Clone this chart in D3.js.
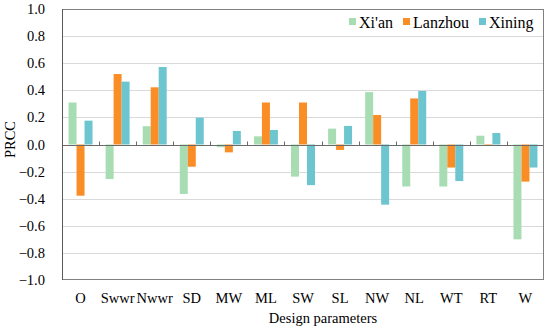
<!DOCTYPE html>
<html>
<head>
<meta charset="utf-8">
<script src="https://cdn.jsdelivr.net/npm/d3@7"></script>
<style>
  body { margin: 0; background: #fff; }
  svg text { font-family: "Liberation Serif", "DejaVu Serif", serif; fill: #000; }
  .grid { stroke: #d9d9d9; stroke-width: 1; }
</style>
</head>
<body>
<div id="chart"></div>
<script>
// Data
let categories = ['O', 'Swwr', 'Nwwr', 'SD', 'MW', 'ML', 'SW', 'SL', 'NW', 'NL', 'WT', 'RT', 'W'];
let seriesNames = ["Xi'an", 'Lanzhou', 'Xining'];
let xianVals    = [0.31, -0.255, 0.135, -0.365, -0.02, 0.06, -0.237, 0.117, 0.387, -0.31, -0.31, 0.065, -0.70];
let lanzhouVals = [-0.378, 0.52, 0.422, -0.164, -0.058, 0.31, 0.31, -0.04, 0.218, 0.34, -0.17, -0.01, -0.274];
let xiningVals  = [0.176, 0.464, 0.572, 0.198, 0.10, 0.107, -0.30, 0.137, -0.444, 0.395, -0.27, 0.085, -0.17];
let yTicks = [-1.0, -0.8, -0.6, -0.4, -0.2, 0.0, 0.2, 0.4, 0.6, 0.8, 1.0];
let colors = ['#a8ddb4', '#fb8d26', '#6cc5cf'];

let W = 550, H = 329;
let margin = {top: 9, right: 6, bottom: 49, left: 62},
    width = W - margin.left - margin.right,
    height = H - margin.top - margin.bottom;
let serif = '"Liberation Serif", "DejaVu Serif", serif';

let allVals = [xianVals, lanzhouVals, xiningVals];
let rows = categories.map((c, i) => ({cat: c, vals: allVals.map(v => v[i])}));

let scX = d3.scaleBand().domain(categories).range([0, width]).padding(0);
let scS = d3.scaleBand().domain(seriesNames).range([0, scX.bandwidth()])
    .paddingInner(0).paddingOuter(0.82);
let scY = d3.scaleLinear().domain([-1, 1]).range([height, 0]);

let svg = d3.select('#chart').append('svg')
    .attr('width', W).attr('height', H)
  .append('g')
    .attr('transform', `translate(${margin.left},${margin.top})`);

// Gridlines
svg.selectAll('line.grid')
    .data(yTicks.filter(d => d !== 0 && Math.abs(d) !== 1))
    .enter().append('line')
    .attr('class', 'grid')
    .attr('x1', 0).attr('x2', width)
    .attr('y1', d => Math.round(scY(d)) + 0.5)
    .attr('y2', d => Math.round(scY(d)) + 0.5);

// Bars
let groups = svg.selectAll('g.cat')
    .data(rows)
    .enter().append('g')
    .attr('class', 'cat')
    .attr('transform', d => `translate(${scX(d.cat)},0)`);

groups.selectAll('rect')
    .data(d => d.vals.map((v, j) => ({s: seriesNames[j], v: v, j: j})))
    .enter().append('rect')
    .attr('x', d => scS(d.s))
    .attr('width', scS.bandwidth())
    .attr('y', d => scY(Math.max(0, d.v)))
    .attr('height', d => Math.abs(scY(d.v) - scY(0)))
    .attr('fill', d => colors[d.j]);

// Zero line with small ticks between categories
let y0 = Math.round(scY(0)) + 0.5;
svg.append('line')
    .attr('x1', 0).attr('x2', width)
    .attr('y1', y0).attr('y2', y0)
    .attr('stroke', '#6b6b6b');
svg.selectAll('line.xtick')
    .data(categories.slice(1))
    .enter().append('line')
    .attr('class', 'xtick')
    .attr('x1', d => Math.round(scX(d)) + 0.5)
    .attr('x2', d => Math.round(scX(d)) + 0.5)
    .attr('y1', y0).attr('y2', y0 - 4)
    .attr('stroke', '#6b6b6b');

// Plot frame
svg.append('rect')
    .attr('x', 0.5).attr('y', 0.5)
    .attr('width', width - 1).attr('height', height - 1)
    .attr('fill', 'none')
    .attr('stroke', '#808080');
svg.append('line')
    .attr('x1', 0.5).attr('x2', 0.5)
    .attr('y1', 0).attr('y2', height)
    .attr('stroke', '#5a5a5a');

// Y tick labels
svg.selectAll('text.ylab')
    .data(yTicks)
    .enter().append('text')
    .attr('class', 'ylab')
    .attr('font-family', serif)
    .attr('font-size', 14.5)
    .attr('x', -17)
    .attr('y', d => scY(d))
    .attr('dy', '0.35em')
    .attr('text-anchor', 'end')
    .text(d => d3.format('.1f')(d).replace('-', '\u2212'));

// X category labels
svg.selectAll('text.xlab')
    .data(categories)
    .enter().append('text')
    .attr('class', 'xlab')
    .attr('font-family', serif)
    .attr('font-size', 14.5)
    .attr('x', d => scX(d) + scX.bandwidth() / 2)
    .attr('y', height + 18)
    .attr('dy', '0.35em')
    .attr('text-anchor', 'middle')
    .text(d => d);

// Axis titles
svg.append('text')
    .attr('font-family', serif)
    .attr('font-size', 14.5)
    .attr('text-anchor', 'middle')
    .attr('x', width / 2 + 20)
    .attr('y', height + 38)
    .attr('dy', '0.35em')
    .text('Design parameters');
svg.append('text')
    .attr('font-family', serif)
    .attr('font-size', 14.5)
    .attr('text-anchor', 'middle')
    .attr('transform', 'rotate(-90)')
    .attr('x', -(scY(0) - 5))
    .attr('y', -margin.left + 10)
    .attr('dy', '0.35em')
    .text('PRCC');

// Legend
let legendX = [287, 341, 417];
let legend = svg.selectAll('g.legend')
    .data(seriesNames)
    .enter().append('g')
    .attr('class', 'legend')
    .attr('transform', (d, i) => `translate(${legendX[i]},${13})`);
legend.append('rect')
    .attr('x', 0).attr('y', -4)
    .attr('width', 7).attr('height', 7)
    .attr('fill', (d, i) => colors[i]);
legend.append('text')
    .attr('font-family', serif)
    .attr('font-size', 16)
    .attr('x', 10)
    .attr('y', 0)
    .attr('dy', '0.35em')
    .text(d => d);
</script>
</body>
</html>
